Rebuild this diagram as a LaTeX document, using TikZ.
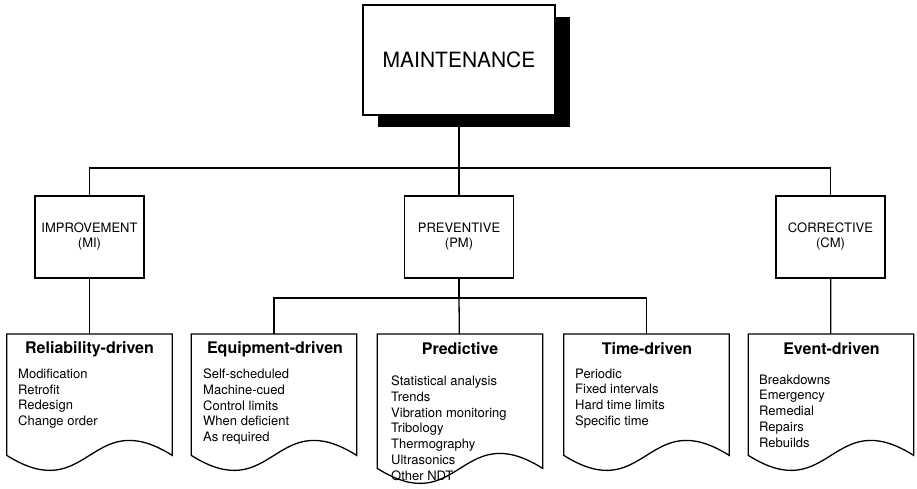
\documentclass[tikz,border=0pt]{standalone}
\usepackage{fontspec}
\setmainfont{TeX Gyre Heros}
\usetikzlibrary{shadows}
\tikzset{
  topbox/.style={draw, fill=white, line width=1.4pt, minimum width=192pt, minimum height=110pt,
    font=\fontsize{21}{25}\selectfont,
    drop shadow={shadow xshift=15pt, shadow yshift=-12.5pt, fill=black, opacity=1}},
  typebox/.style={draw, line width=1.3pt, minimum width=109pt, minimum height=82pt,
    align=center, font=\fontsize{13}{15}\selectfont},
  docbody/.style={minimum width=165pt, minimum height=121pt, inner sep=0pt, anchor=north},
  dochead/.style={font=\bfseries\fontsize{16}{19}\selectfont},
  doclist/.style={anchor=north west, align=left, inner sep=0pt, font=\fontsize{13}{15.8}\selectfont},
  link/.style={line width=1.3pt}
}
\begin{document}
\begin{tikzpicture}[x=1pt,y=1pt]
  \useasboundingbox (0,0) rectangle (917,489);
  \node[topbox] (main) at (459,429) {MAINTENANCE};
  \node[typebox] (mi) at (89.5,252) {IMPROVEMENT\\(MI)};
  \node[typebox] (pm) at (459,252) {PREVENTIVE\\(PM)};
  \node[typebox] (cm) at (830.5,252) {CORRECTIVE\\(CM)};
  % document boxes
  \node[docbody] (rel) at (89.5,155) {};
  \node[docbody] (equ) at (274,155) {};
  \node[docbody, minimum height=134pt] (pred) at (460,155) {};
  \node[docbody] (time) at (646.5,155) {};
  \node[docbody] (event) at (831,155) {};
  \foreach \n in {rel,equ,pred,time,event}
    \draw[link] (\n.north west) -- (\n.south west)
      .. controls +(82.5,-52) and +(-82.5,52) .. (\n.south east)
      -- (\n.north east) -- cycle;
  \node[dochead] (relH) at (89.5,140) {Reliability-driven};
  \node[dochead] (equH) at (275,140) {Equipment-driven};
  \node[dochead] (predH) at (460,140) {Predictive};
  \node[dochead] (timeH) at (647,140) {Time-driven};
  \node[dochead] (eventH) at (831.5,140) {Event-driven};
  \node[doclist] (relL) at (18,120.5) {Modification\\Retrofit\\Redesign\\Change order};
  \node[doclist] (equL) at (203,120.5) {Self-scheduled\\Machine-cued\\Control limits\\When deficient\\As required};
  \node[doclist] (predL) at (391,113.5) {Statistical analysis\\Trends\\Vibration monitoring\\Tribology\\Thermography\\Ultrasonics\\Other NDT};
  \node[doclist] (timeL) at (575,120.5) {Periodic\\Fixed intervals\\Hard time limits\\Specific time};
  \node[doclist] (eventL) at (759,114.5) {Breakdowns\\Emergency\\Remedial\\Repairs\\Rebuilds};
  % connectors
  \coordinate (top) at (459,321);
  \coordinate (mid) at (459,191);
  \begin{scope}[link]
    \draw (main) -- (top);
    \draw (mi) |- (top) -| (cm);
    \draw (top) -- (pm);
    \draw (pm) -- (mid);
    \draw (equ) |- (mid) -| (time);
    \draw (mid) -- (pred);
    \draw (mi) -- (rel);
    \draw (cm) -- (event);
  \end{scope}
\end{tikzpicture}
\end{document}
